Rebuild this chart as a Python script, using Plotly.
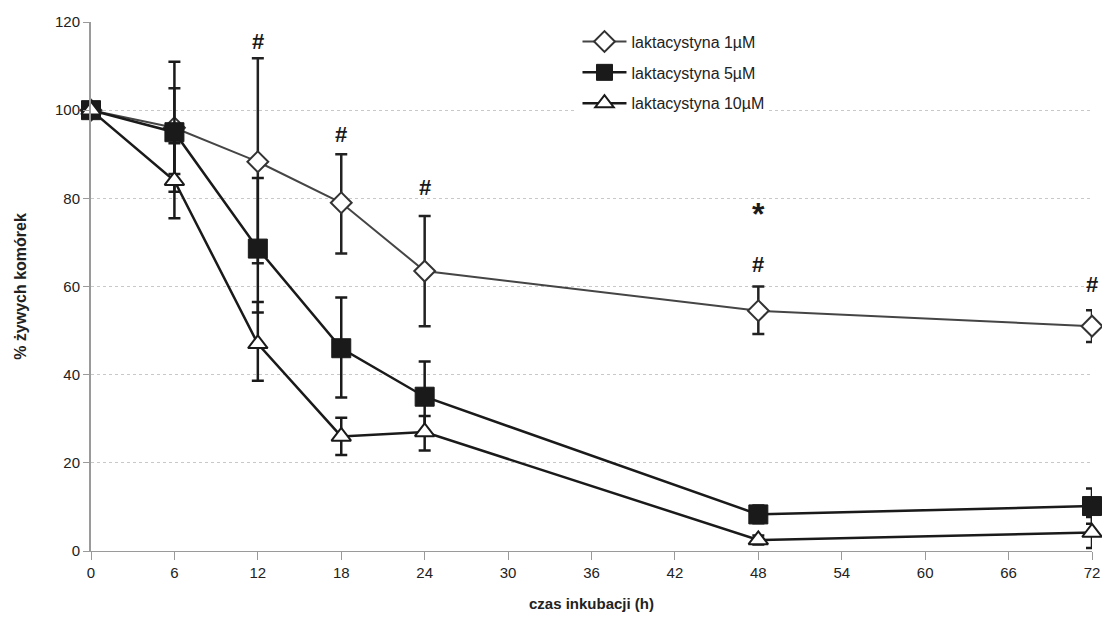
import plotly.graph_objects as go

hours = [0, 6, 12, 18, 24, 48, 72]
x_ticks = [0, 6, 12, 18, 24, 30, 36, 42, 48, 54, 60, 66, 72]

lak1 = [100, 96, 88.3, 79, 63.5, 54.5, 51]
lak1_up = [0, 9, 23.5, 11, 12.5, 5.5, 3.6]
lak1_dn = [0, 10.5, 23, 11.5, 12.5, 5.3, 3.6]

lak5 = [100, 95, 68.6, 46, 35, 8.3, 10.2]
lak5_up = [0, 16, 16, 11.5, 8, 2, 4]
lak5_dn = [0, 13.5, 14.5, 11.2, 8, 2, 4]

lak10 = [100, 84, 47, 26, 27, 2.5, 4.2]
lak10_up = [0, 8.5, 9.5, 4.2, 3.6, 1, 3.5]
lak10_dn = [0, 8.5, 8.4, 4.2, 4.2, 1, 3.5]

names = ["laktacystyna 1µM", "laktacystyna 5µM", "laktacystyna 10µM"]

marks_x = [12, 18, 24, 48, 48, 72]
marks_y = [115.5, 94.5, 82.5, 65, 76.5, 60.5]
marks_t = ["#", "#", "#", "#", "*", "#"]

FONT = "Arial, Liberation Sans, sans-serif"

fig = go.Figure()

fig.add_trace(go.Scatter(
    x=hours, y=lak1, name=names[0], mode="lines+markers", legendgroup="a",
    line=dict(color="#454545", width=2),
    marker=dict(symbol="diamond", size=16, color="white", line=dict(color="#333333", width=2)),
    error_y=dict(type="data", symmetric=False, array=lak1_up, arrayminus=lak1_dn,
                 color="#222222", thickness=2.5, width=6),
    cliponaxis=False,
))
fig.add_trace(go.Scatter(
    x=hours, y=lak5, name=names[1], mode="lines+markers", legendgroup="b",
    line=dict(color="#1a1a1a", width=2.5),
    marker=dict(symbol="square", size=19, color="#1a1a1a", line=dict(color="#1a1a1a", width=1)),
    error_y=dict(type="data", symmetric=False, array=lak5_up, arrayminus=lak5_dn,
                 color="#1a1a1a", thickness=2.5, width=6),
    cliponaxis=False,
))
fig.add_trace(go.Scatter(
    x=hours, y=lak10, name=names[2], mode="lines+markers", legendgroup="c",
    line=dict(color="#1a1a1a", width=2.5),
    marker=dict(symbol="triangle-up", size=17, color="white", line=dict(color="#1a1a1a", width=2)),
    error_y=dict(type="data", symmetric=False, array=lak10_up, arrayminus=lak10_dn,
                 color="#1a1a1a", thickness=2.5, width=6),
    cliponaxis=False,
))

for mx, my, mt in zip(marks_x, marks_y, marks_t):
    fig.add_annotation(x=mx, y=my, xref="x", yref="y", text="<b>%s</b>" % mt,
                       showarrow=False,
                       font=dict(family=FONT, size=32 if mt == "*" else 22, color="#1a1a1a"))

fig.update_layout(
    width=1102, height=623,
    margin=dict(l=91, r=10, t=22, b=72, autoexpand=False),
    plot_bgcolor="white", paper_bgcolor="white",
    font=dict(family=FONT, size=15, color="#222222"),
    showlegend=True,
    legend=dict(x=0.486, y=0.995, xanchor="left", yanchor="top",
                bgcolor="white", font=dict(family=FONT, size=16, color="#222222"),
                tracegroupgap=7, itemwidth=44),
    xaxis=dict(range=[0, 72], tickvals=x_ticks, ticktext=[str(t) for t in x_ticks],
               automargin=False,
               showgrid=False, zeroline=False, showline=True, linecolor="#9a9a9a", linewidth=1,
               ticks="outside", ticklen=8, tickcolor="#9a9a9a",
               title=dict(text="<b>czas inkubacji (h)</b>", font=dict(size=15), standoff=18),
               tickfont=dict(size=15)),
    yaxis=dict(range=[0, 120], tickvals=[0, 20, 40, 60, 80, 100, 120],
               automargin=False,
               showgrid=True, gridcolor="#c8c8c8", griddash="dot", gridwidth=1,
               zeroline=False, showline=True, linecolor="#9a9a9a", linewidth=2,
               ticks="outside", ticklen=6, tickcolor="#9a9a9a",
               title=dict(text="<b>% żywych komórek</b>", font=dict(size=16), standoff=24),
               tickfont=dict(size=15)),
)

fig.write_html("out.html")
